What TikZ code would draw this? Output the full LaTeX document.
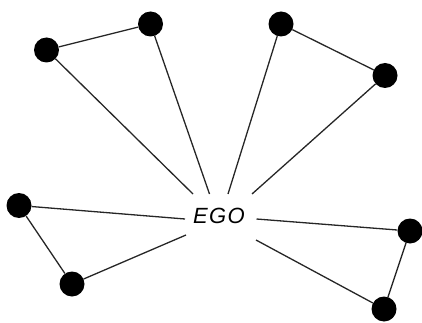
\documentclass[tikz,border=0pt]{standalone}
\usepackage{fontspec}
\newfontfamily\egofont[LetterSpace=6]{Liberation Sans}
\begin{document}
\begin{tikzpicture}[x=1pt,y=-1pt,
  dot/.style={circle,fill=black,draw=none,minimum size=25pt,inner sep=0pt},
  link/.style={line width=1.3pt,draw=black!85}]
\useasboundingbox (0,0) rectangle (422,323);
\node[dot] (a) at (46.5,50) {};
\node[dot] (b) at (150.5,24) {};
\node[dot] (c) at (281,24) {};
\node[dot] (d) at (385,75.5) {};
\node[dot] (e) at (19,205.5) {};
\node[dot] (f) at (72,284) {};
\node[dot] (g) at (410,231) {};
\node[dot] (h) at (384,309) {};
\node[font=\egofont\itshape\fontsize{22}{22}\selectfont] (ego) at (219,216) {EGO};
\coordinate (ea) at (193,194);
\coordinate (eb) at (209.5,194);
\coordinate (ec) at (228,194);
\coordinate (ed) at (252,194);
\coordinate (ee) at (185,219);
\coordinate (ef) at (186,235);
\coordinate (eg) at (256.5,219);
\coordinate (eh) at (256,240);
\draw[link] (a) -- (b);
\draw[link] (c) -- (d);
\draw[link] (e) -- (f);
\draw[link] (g) -- (h);
\draw[link] (a) -- (ea);
\draw[link] (b) -- (eb);
\draw[link] (c) -- (ec);
\draw[link] (d) -- (ed);
\draw[link] (e) -- (ee);
\draw[link] (f) -- (ef);
\draw[link] (g) -- (eg);
\draw[link] (h) -- (eh);
\end{tikzpicture}
\end{document}
